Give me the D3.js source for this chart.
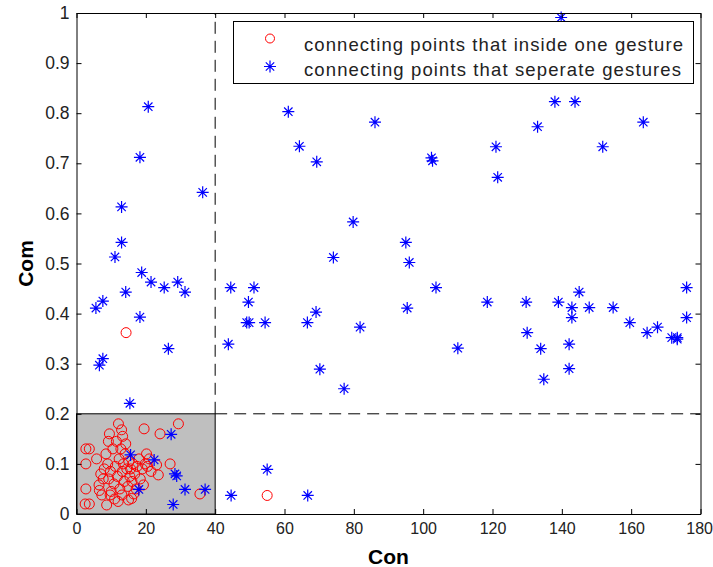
<!DOCTYPE html>
<html>
<head>
<meta charset="utf-8">
<script src="https://cdn.jsdelivr.net/npm/d3@7"></script>
<style>
  body { margin: 0; background: #fff; }
  text { font-family: "Liberation Sans", Arial, sans-serif; }
</style>
</head>
<body>
<div id="container"></div>
<script>
/* CONSTANTS AND GLOBALS */
const width = 713,
  height = 567,
  margin = { top: 13, bottom: 53, left: 76.5, right: 12.5 }

/* DATA */
// red circles: connecting points inside one gesture [con, com]
const insidePoints = [
  [2.5, 0.02], [3.7, 0.02], [8.7, 0.018], [2.7, 0.05], [6.6, 0.047], [7.3, 0.038],
  [9.7, 0.038], [2.7, 0.1], [2.7, 0.13], [3.7, 0.13], [5.8, 0.11], [7.7, 0.07],
  [9.5, 0.16], [9.2, 0.145], [12.1, 0.18], [13, 0.168], [13.3, 0.155], [19.5, 0.17],
  [24.1, 0.16], [29.4, 0.18], [20.2, 0.12], [21, 0.11], [23.1, 0.098], [27, 0.1],
  [23.6, 0.078], [19.3, 0.058], [35.6, 0.04], [15.9, 0.031], [15, 0.028], [13.1, 0.038],
  [14.3, 0.362], [55, 0.037],
  [8.5, 0.12], [9, 0.1], [9.8, 0.085], [10.5, 0.13], [10.8, 0.06], [11.2, 0.095],
  [11.5, 0.145], [11.8, 0.075], [12.3, 0.11], [12.5, 0.05], [12.8, 0.13], [13.2, 0.085],
  [13.5, 0.1], [13.8, 0.065], [14, 0.12], [14.2, 0.14], [14.5, 0.09], [14.8, 0.055],
  [15.1, 0.105], [15.4, 0.075], [15.6, 0.09], [16, 0.065], [16.3, 0.1], [16.8, 0.08],
  [17.2, 0.05], [17.5, 0.095], [18, 0.11], [18.4, 0.07], [19, 0.09], [19.8, 0.1],
  [20.5, 0.095], [21.5, 0.085], [8, 0.09], [7, 0.08], [10, 0.045], [11, 0.03],
  [12, 0.025], [16.5, 0.04], [6.5, 0.058], [9.3, 0.07]
]

// blue stars: connecting points that separate gestures [con, com]
const separatePoints = [
  [20.7, 0.813], [18.3, 0.712], [36.4, 0.642], [13.0, 0.613], [13.0, 0.542], [11.1, 0.513],
  [18.8, 0.482], [21.5, 0.463], [25.3, 0.452], [29.2, 0.463], [31.3, 0.443], [14.2, 0.443],
  [7.6, 0.425], [5.6, 0.411], [18.3, 0.393], [26.5, 0.330], [7.6, 0.310], [6.6, 0.297],
  [15.4, 0.221],
  [61.1, 0.803], [86.1, 0.782], [64.3, 0.734], [69.3, 0.703], [102.4, 0.711], [102.7, 0.705],
  [79.8, 0.583], [95.0, 0.542], [74.1, 0.512], [96.0, 0.502], [44.5, 0.452], [51.2, 0.452],
  [103.7, 0.452], [49.6, 0.423], [69.1, 0.403], [95.4, 0.411], [49.1, 0.382], [49.8, 0.382],
  [54.4, 0.382], [66.6, 0.382], [81.8, 0.373], [43.8, 0.339], [110.0, 0.331], [70.2, 0.289],
  [77.2, 0.250],
  [138.0, 0.823], [143.8, 0.823], [133.0, 0.773], [163.5, 0.782], [121.0, 0.733], [151.8, 0.733],
  [121.5, 0.672], [176.0, 0.452], [145.0, 0.443], [118.5, 0.423], [129.7, 0.423], [139.0, 0.423],
  [142.9, 0.412], [147.9, 0.412], [154.8, 0.412], [142.9, 0.392], [176.0, 0.392], [159.6, 0.382],
  [164.6, 0.362], [167.6, 0.373], [171.7, 0.352], [173.3, 0.352], [173.3, 0.349], [130.0, 0.362],
  [133.9, 0.330], [142.1, 0.339], [142.1, 0.290], [134.8, 0.269], [139.8, 0.991],
  [55.0, 0.089], [44.6, 0.037], [66.7, 0.037],
  [27.3, 0.159], [15.6, 0.118], [22.4, 0.108], [28.4, 0.080], [28.9, 0.076], [18.0, 0.049],
  [31.3, 0.049], [37.1, 0.049], [27.9, 0.019]
]

const xTicks = [0, 20, 40, 60, 80, 100, 120, 140, 160, 180]
const yTicks = [0, 0.1, 0.2, 0.3, 0.4, 0.5, 0.6, 0.7, 0.8, 0.9, 1]
const legendLabels = [
  "connecting points that inside one gesture",
  "connecting points that seperate gestures"
]
const conSplit = 40, comSplit = 0.2

/* SCALES */
const xScale = d3.scaleLinear()
  .domain([0, 180])
  .range([margin.left, width - margin.right])

const yScale = d3.scaleLinear()
  .domain([0, 1])
  .range([height - margin.bottom, margin.top])

const svg = d3.select("#container")
  .append("svg")
  .attr("width", width)
  .attr("height", height)

const starPath = "M-6,0H6M0,-6V6M-4.2,-4.2L4.2,4.2M-4.2,4.2L4.2,-4.2"

// gray box for the lower-left region
svg.append("rect")
  .attr("x", xScale(0))
  .attr("y", yScale(comSplit))
  .attr("width", xScale(conSplit) - xScale(0))
  .attr("height", yScale(0) - yScale(comSplit))
  .attr("fill", "#bfbfbf")
  .attr("stroke", "black")
  .attr("stroke-width", 1)

// dashed threshold lines
svg.append("line")
  .attr("x1", xScale(conSplit)).attr("x2", xScale(conSplit))
  .attr("y1", yScale(comSplit)).attr("y2", yScale(1))
  .attr("stroke", "black")
  .attr("stroke-dasharray", "12,7")

svg.append("line")
  .attr("x1", xScale(conSplit)).attr("x2", xScale(180))
  .attr("y1", yScale(comSplit)).attr("y2", yScale(comSplit))
  .attr("stroke", "black")
  .attr("stroke-dasharray", "12,7")

// points
svg.append("g")
  .selectAll("circle")
  .data(insidePoints)
  .join("circle")
  .attr("cx", d => xScale(d[0]))
  .attr("cy", d => yScale(d[1]))
  .attr("r", 5)
  .attr("fill", "none")
  .attr("stroke", "#ff0000")
  .attr("stroke-width", 1)

svg.append("g")
  .selectAll("path")
  .data(separatePoints)
  .join("path")
  .attr("transform", d => `translate(${xScale(d[0])},${yScale(d[1])})`)
  .attr("d", starPath)
  .attr("fill", "none")
  .attr("stroke", "#0000ff")
  .attr("stroke-width", 1.2)

/* AXES */
const xAxis = svg.append("g")
  .attr("transform", `translate(0,${yScale(0)})`)
  .call(d3.axisBottom(xScale).tickValues(xTicks).tickSizeInner(-5).tickSizeOuter(0).tickPadding(9))
svg.append("g")
  .attr("transform", `translate(0,${yScale(1)})`)
  .call(d3.axisTop(xScale).tickValues(xTicks).tickSizeInner(-5).tickSizeOuter(0).tickFormat(""))
const yAxis = svg.append("g")
  .attr("transform", `translate(${xScale(0)},0)`)
  .call(d3.axisLeft(yScale).tickValues(yTicks).tickSizeInner(-5).tickSizeOuter(0).tickPadding(7)
    .tickFormat(d => d === 0 || d === 1 ? d3.format("d")(d) : d3.format(".1f")(d)))
svg.append("g")
  .attr("transform", `translate(${xScale(180)},0)`)
  .call(d3.axisRight(yScale).tickValues(yTicks).tickSizeInner(-5).tickSizeOuter(0).tickFormat(""))

svg.selectAll(".domain").attr("stroke", "black")
svg.selectAll(".tick line").attr("stroke", "black")
yAxis.selectAll(".tick text").attr("font-size", 17.5)
xAxis.selectAll(".tick text").attr("font-size", 16)
// keep the last x label inside the page
xAxis.selectAll(".tick text").filter(d => d === 180).attr("text-anchor", "end").attr("dx", 12)
svg.selectAll(".tick text")
  .attr("font-family", "'Liberation Sans', Arial, sans-serif")
  .attr("fill", "#222")

// axis labels
svg.append("text")
  .attr("x", (xScale(0) + xScale(180)) / 2)
  .attr("y", 564)
  .attr("text-anchor", "middle")
  .attr("font-size", 21)
  .attr("font-weight", "bold")
  .text("Con")

svg.append("text")
  .attr("transform", `translate(33,${(yScale(0) + yScale(1)) / 2}) rotate(-90)`)
  .attr("text-anchor", "middle")
  .attr("font-size", 21)
  .attr("font-weight", "bold")
  .text("Com")

/* LEGEND */
const legend = svg.append("g")
legend.append("rect")
  .attr("x", 233.5).attr("y", 21.5)
  .attr("width", 460).attr("height", 62)
  .attr("fill", "white")
  .attr("stroke", "black")
  .attr("stroke-width", 1)

legend.append("circle")
  .attr("cx", 270).attr("cy", 38.5).attr("r", 4.5)
  .attr("fill", "none").attr("stroke", "#ff0000")
legend.append("path")
  .attr("transform", "translate(270,66.5)")
  .attr("d", starPath)
  .attr("fill", "none").attr("stroke", "#0000ff").attr("stroke-width", 1.2)

legend.selectAll("text")
  .data(legendLabels)
  .join("text")
  .attr("x", 304)
  .attr("y", (d, i) => 51 + i * 24.5)
  .attr("font-size", 18.5)
  .attr("textLength", (d, i) => i === 0 ? 379 : 377)
  .attr("lengthAdjust", "spacing")
  .attr("fill", "#222")
  .text(d => d)
</script>
</body>
</html>
